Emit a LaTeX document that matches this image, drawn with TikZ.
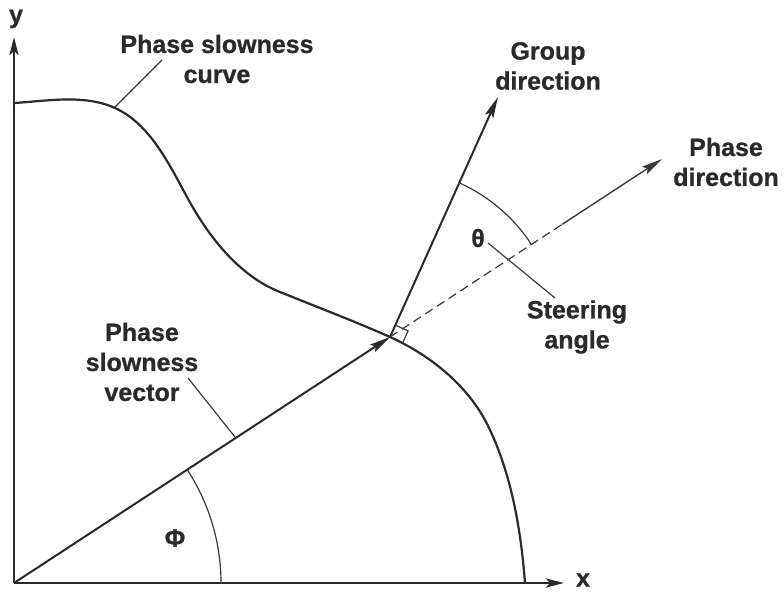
\documentclass[tikz,border=0pt]{standalone}
\usepackage{fontspec}
\setmainfont{Liberation Sans}[BoldFeatures={FakeBold=0.8}]
\usetikzlibrary{arrows.meta,calc}
\definecolor{ink}{HTML}{2A2A2A}
\definecolor{lead}{HTML}{3A3A3A}
\begin{document}
\begin{tikzpicture}[x=1pt,y=1pt,
  lbl/.style={font=\fontsize{25}{30}\selectfont\bfseries, text=ink, align=center, inner sep=0pt},
  axisline/.style={line width=2.6pt, draw=ink, line cap=butt},
  curveline/.style={line width=2.2pt, draw=ink},
  vecline/.style={line width=2pt, draw=ink},
  thin/.style={line width=1.2pt, draw=lead},
  tip/.style={-{Stealth[length=21pt,width=9pt,inset=4pt]}}
]
\useasboundingbox (0,0) rectangle (784,592);
% key points
\coordinate (O) at (14,9);
\coordinate (YT) at (14,555);
\coordinate (XT) at (564,9);
\coordinate (P) at (390,255);
\coordinate (G) at ($(P)+(65.8:263)$);
\coordinate (D1) at ($(P)+(33.2:206)$);
\coordinate (D2) at ($(P)+(33.2:325)$);
% axes
\draw[axisline, -{Stealth[length=18pt,width=9pt,inset=4pt]}] (O) -- (YT);
\draw[axisline, -{Stealth[length=18pt,width=9pt,inset=4pt]}] (O) -- (XT);
\node[lbl] (ylab) at (16,573) {y};
\node[lbl] (xlab) at (583,12) {x};
% phase slowness curve
\draw[curveline] (14,489) .. controls (48,491) and (84,498) .. (115,484)
  .. controls (150,468) and (169,428) .. (187,395)
  .. controls (208,356) and (239,316) .. (280,300)
  .. controls (317,285) and (354,271) .. (P)
  .. controls (432,236) and (471,204) .. (490,162)
  .. controls (512,115) and (521,61) .. (525,9);
% vectors
\draw[vecline, tip] (O) -- (P);
\draw[vecline, tip] (P) -- (G);
\draw[thin, dash pattern=on 9pt off 5pt] (P) -- (D1);
\draw[thin, line width=1.4pt, tip] (D1) -- (D2);
% right angle mark
\draw[thin] ($(P)+(65.8:13)$) -- ($(P)+(65.8:13)+(-24.2:14)$) -- ($(P)+(-24.2:14)$);
% angle arcs
\draw[thin] ($(P)+(65.8:169)$) arc[start angle=65.8, end angle=33.2, radius=169];
\draw[thin] ($(O)+(0:207)$) arc[start angle=0, end angle=33.2, radius=207];
% labels
\node[lbl] (curvelab) at (217,533) {Phase slowness\\curve};
\node[lbl] (grouplab) at (548,526) {Group\\direction};
\node[lbl] (phaselab) at (726,430) {Phase\\direction};
\node[lbl] (steerlab) at (577,265) {Steering\\angle};
\node[lbl] (veclab) at (142,230) {Phase\\slowness\\vector};
\node[lbl] (theta) at (478,354) {θ};
\node[lbl] (phi) at (175,54) {Φ};
% leaders
\coordinate (c1) at (115,485);
\coordinate (c2) at (162,532);
\draw[thin] (c1) -- (c2);
\coordinate (v1) at (188,214);
\coordinate (v2) at (235,155);
\draw[thin] (v1) -- (v2);
\coordinate (s1) at (488,349);
\coordinate (s2) at (555,294);
\draw[thin] (s1) -- (s2);
\end{tikzpicture}
\end{document}
